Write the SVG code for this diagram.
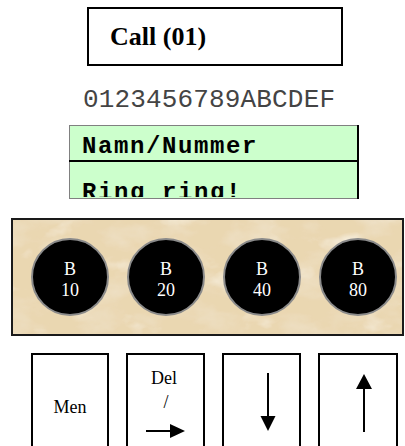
<svg xmlns="http://www.w3.org/2000/svg" width="405" height="446" viewBox="0 0 405 446">
  <defs>
    <style>
      .frame { fill: #ffffff; stroke: #000000; stroke-width: 2; }
      .serif { font-family: "Liberation Serif", "Times New Roman", serif; }
      .mono { font-family: "Liberation Mono", "Courier New", monospace; }
      .lcd { font-size: 24px; font-weight: bold; letter-spacing: 1.6px; fill: #000000; }
      .btn-label { font-size: 18px; fill: #000000; text-anchor: middle; }
      .bit { fill: #000000; stroke: #8a8a8a; stroke-width: 2; }
      .bit-label { font-size: 18px; fill: #ffffff; text-anchor: middle; }
      .arrow { stroke: #000000; stroke-width: 2; fill: none; }
      .head { fill: #000000; }
    </style>
    <!-- mottled paper texture: darker warm blotches plus lighter patches -->
    <filter id="parchment" x="0" y="0" width="100%" height="100%">
      <feTurbulence type="fractalNoise" baseFrequency="0.025 0.04" numOctaves="4" seed="11" result="noise"/>
      <feColorMatrix in="noise" type="matrix"
        values="0 0 0 0 0.85
                0 0 0 0 0.74
                0 0 0 0 0.55
                2.2 0 0 0 -0.95" result="dark"/>
      <feColorMatrix in="noise" type="matrix"
        values="0 0 0 0 0.95
                0 0 0 0 0.89
                0 0 0 0 0.77
                0 -2.0 0 0 0.8" result="light"/>
      <feComposite in="dark" in2="SourceGraphic" operator="in" result="darkIn"/>
      <feComposite in="light" in2="SourceGraphic" operator="in" result="lightIn"/>
      <feMerge>
        <feMergeNode in="SourceGraphic"/>
        <feMergeNode in="darkIn"/>
        <feMergeNode in="lightIn"/>
      </feMerge>
    </filter>
    <clipPath id="lcdClip">
      <rect x="69" y="125" width="289" height="72"/>
    </clipPath>
  </defs>

  <!-- title box -->
  <g id="title">
    <rect class="frame" x="88" y="8" width="254" height="57"/>
    <text class="serif" x="110" y="45" font-size="26" font-weight="bold">Call (01)</text>
  </g>

  <!-- column ruler above the display -->
  <g id="ruler">
    <text class="mono" x="83" y="107" font-size="26" fill="#444444" textLength="252" lengthAdjust="spacing">0123456789ABCDEF</text>
  </g>

  <!-- two-line display -->
  <g id="display">
    <rect x="69" y="125" width="289" height="73" fill="#ccffcc"/>
    <g clip-path="url(#lcdClip)">
      <text class="mono lcd" x="82" y="153">Namn/Nummer</text>
      <text class="mono lcd" x="82" y="199">Ring ring!</text>
    </g>
    <line x1="69" y1="125.5" x2="358" y2="125.5" stroke="#808080" stroke-width="1"/>
    <line x1="69.5" y1="125" x2="69.5" y2="199" stroke="#808080" stroke-width="1"/>
    <line x1="69" y1="198.5" x2="358" y2="198.5" stroke="#808080" stroke-width="1"/>
    <line x1="69" y1="161" x2="358" y2="161" stroke="#000000" stroke-width="2"/>
    <line x1="358" y1="125" x2="358" y2="199" stroke="#000000" stroke-width="2"/>
  </g>

  <!-- panel of bit indicators -->
  <g id="panel">
    <rect x="12" y="219" width="391" height="116" fill="#ead7b1" filter="url(#parchment)"/>
    <rect x="12" y="219" width="391" height="116" fill="none" stroke="#1a1a1a" stroke-width="2"/>
  </g>
  <g id="bit10">
    <circle class="bit" cx="70" cy="277" r="38"/>
    <text class="serif bit-label" x="70" y="275">B</text>
    <text class="serif bit-label" x="70" y="296">10</text>
  </g>
  <g id="bit20">
    <circle class="bit" cx="166" cy="277" r="38"/>
    <text class="serif bit-label" x="166" y="275">B</text>
    <text class="serif bit-label" x="166" y="296">20</text>
  </g>
  <g id="bit40">
    <circle class="bit" cx="262" cy="277" r="38"/>
    <text class="serif bit-label" x="262" y="275">B</text>
    <text class="serif bit-label" x="262" y="296">40</text>
  </g>
  <g id="bit80">
    <circle class="bit" cx="358" cy="277" r="38"/>
    <text class="serif bit-label" x="358" y="275">B</text>
    <text class="serif bit-label" x="358" y="296">80</text>
  </g>

  <!-- keys -->
  <g id="keyMenu">
    <rect class="frame" x="32" y="354" width="76" height="100"/>
    <text class="serif btn-label" x="70" y="413">Men</text>
  </g>
  <g id="keyDel">
    <rect class="frame" x="127" y="354" width="77" height="100"/>
    <text class="serif btn-label" x="164" y="384" font-size="19">Del</text>
    <text class="serif btn-label" x="166" y="408">/</text>
    <line class="arrow" x1="146" y1="431" x2="171" y2="431"/>
    <polygon class="head" points="170,424 185,431 170,438"/>
  </g>
  <g id="keyDown">
    <rect class="frame" x="223" y="354" width="77" height="100"/>
    <line class="arrow" x1="268" y1="373" x2="268" y2="418"/>
    <polygon class="head" points="260.5,416 275.5,416 268,431"/>
  </g>
  <g id="keyUp">
    <rect class="frame" x="319" y="354" width="78" height="100"/>
    <line class="arrow" x1="364" y1="387" x2="364" y2="432"/>
    <polygon class="head" points="356,389 372,389 364,374"/>
  </g>
</svg>
